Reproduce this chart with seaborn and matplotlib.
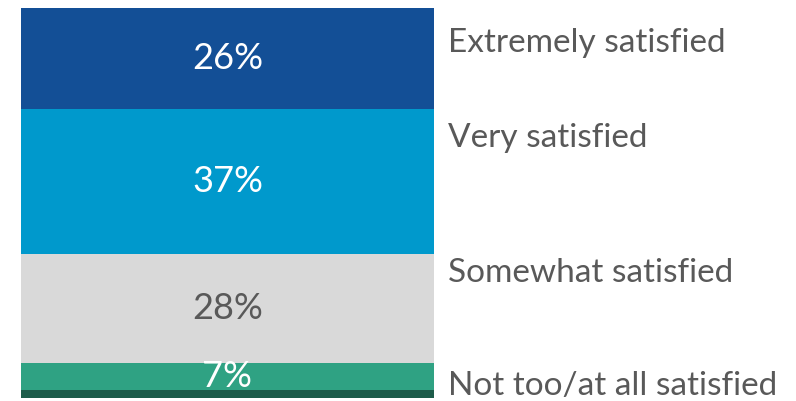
import matplotlib
matplotlib.use("Agg")
import matplotlib.pyplot as plt
import seaborn as sns

# Satisfaction shares, stacked from bottom to top
categories = ["Not at all satisfied", "Not too satisfied", "Somewhat satisfied",
              "Very satisfied", "Extremely satisfied"]
values = [2, 7, 28, 37, 26]
bar_labels = ["", "7%", "28%", "37%", "26%"]
colors = ["#1d5c4a", "#2fa283", "#d9d9d9", "#0099cc", "#134f96"]
label_colors = ["white", "white", "#595959", "white", "white"]

# Category names shown to the right of the bar, with their vertical anchors
side_labels = ["Extremely satisfied", "Very satisfied", "Somewhat satisfied",
               "Not too/at all satisfied"]
side_label_y = [91.0, 66.7, 32.0, 3.0]

sns.set_style("white")
plt.rcParams["font.family"] = ["Lato", "DejaVu Sans"]

fig = plt.figure(figsize=(7.96, 4.01), dpi=100)
ax = fig.add_axes([21 / 796, 1 - 398 / 401, (434 - 21) / 796, 390 / 401])

bottom = 0
for cat, v, c, lab, lc in zip(categories, values, colors, bar_labels, label_colors):
    sns.barplot(x=["All"], y=[v], bottom=bottom, color=c, width=1.0,
                saturation=1, ax=ax, linewidth=0)
    if lab:
        ax.text(0, bottom + v / 2, lab, ha="center", va="center",
                color=lc, fontsize=26)
    bottom += v

ax.set_xlim(-0.5, 0.5)
ax.set_ylim(0, sum(values))
ax.axis("off")

for name, y in zip(side_labels, side_label_y):
    ax.text(0.5 + 14 / 413, y, name, ha="left", va="center",
            color="#595959", fontsize=24, transform=ax.transData,
            clip_on=False)

fig.savefig("out.png", dpi=100)
